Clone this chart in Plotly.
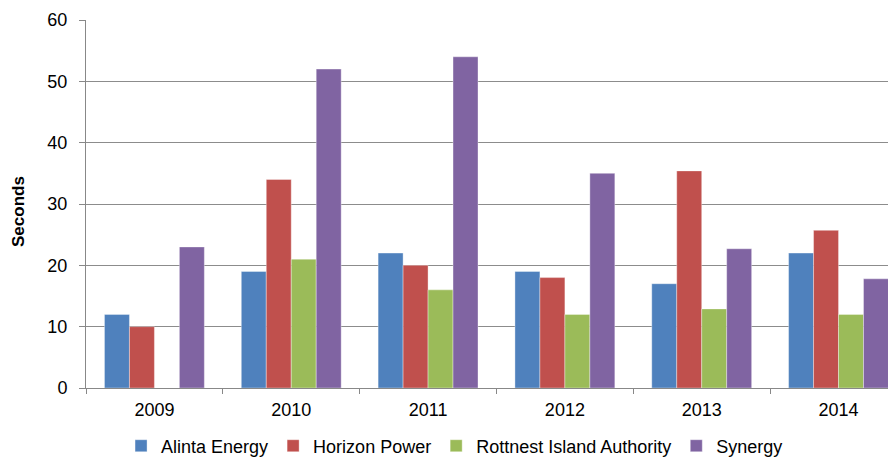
import plotly.graph_objects as go

years = ["2009", "2010", "2011", "2012", "2013", "2014"]
alinta = [12, 19, 22, 19, 17, 22]
horizon = [10, 34, 20, 18, 35.4, 25.7]
rottnest = [None, 21, 16, 12, 12.9, 12]
synergy = [23, 52, 54, 35, 22.7, 17.8]

series = [
    ("Alinta Energy", alinta, "#4F81BD"),
    ("Horizon Power", horizon, "#C0504D"),
    ("Rottnest Island Authority", rottnest, "#9BBB59"),
    ("Synergy", synergy, "#8064A2"),
]

fig = go.Figure()
for name, vals, col in series:
    fig.add_trace(go.Bar(x=years, y=vals, name=name,
                         marker=dict(color=col, line=dict(color="rgba(255,255,255,0.6)", width=0.6))))

# page body has an 8px default margin; figure sized to fill the rest of the window
fig.update_layout(
    width=888, height=458,
    margin=dict(l=78, r=0, t=12, b=78),
    paper_bgcolor="white", plot_bgcolor="white",
    barmode="group", bargap=0.27, bargroupgap=0,
    font=dict(family="Liberation Sans, Arial, sans-serif", size=18, color="#000"),
    legend=dict(orientation="h", x=0.455, xanchor="center", y=-0.208, yanchor="bottom",
                font=dict(size=18), itemwidth=30, traceorder="normal"),
    xaxis=dict(type="category", range=[-0.5, 5.42], showline=True, linecolor="#888",
               linewidth=1, ticks="outside", tickson="boundaries", ticklen=5,
               tickcolor="#888", showgrid=False, tickfont=dict(size=18),
               ticklabelstandoff=5, automargin=False),
    yaxis=dict(range=[0, 60], dtick=10, showgrid=True, gridcolor="#8c8c8c", gridwidth=1,
               showline=True, linecolor="#888", linewidth=1, ticks="outside",
               ticklen=6, tickcolor="#888", tickfont=dict(size=18), zeroline=False,
               ticklabelstandoff=8, automargin=False),
    annotations=[dict(text="<b>Seconds</b>", xref="paper", yref="paper", x=0, y=0.5,
                      xshift=-68, yshift=-8, xanchor="center", yanchor="middle",
                      textangle=-90, showarrow=False, font=dict(size=17))],
)

fig.write_html("out.html")
